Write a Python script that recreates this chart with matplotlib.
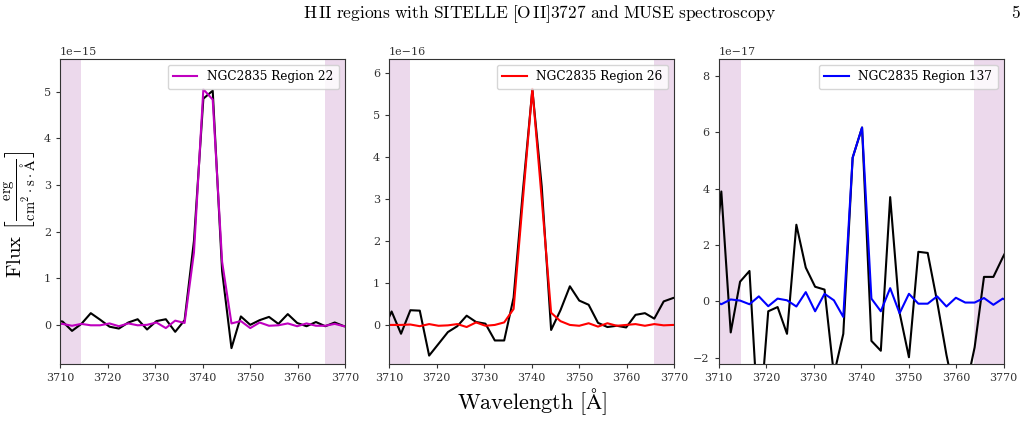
import matplotlib
matplotlib.use("Agg")
import matplotlib.pyplot as plt

plt.rcParams['font.family'] = ['DejaVu Serif']
plt.rcParams['mathtext.fontset'] = 'cm'

wavelength = [3708.58, 3710.55, 3712.53, 3714.50, 3716.48, 3718.45, 3720.43, 3722.40,
              3724.38, 3726.35, 3728.33, 3730.30, 3732.28, 3734.25, 3736.23, 3738.20,
              3740.18, 3742.15, 3744.13, 3746.10, 3748.08, 3750.05, 3752.03, 3754.00,
              3755.98, 3757.95, 3759.93, 3761.90, 3763.88, 3765.85, 3767.83, 3769.80,
              3771.78]

# Region 22 (units 1e-15)
r22_obs = [0.10, 0.07, -0.13, 0.02, 0.25, 0.11, -0.04, -0.08, 0.05, 0.12, -0.10, 0.08,
           0.12, -0.15, 0.10, 1.80, 4.85, 5.02, 1.15, -0.50, 0.18, 0.00, 0.10, 0.17,
           0.02, 0.23, 0.04, -0.03, 0.06, -0.03, 0.05, -0.03, -0.05]
r22_model = [0.02, 0.02, -0.02, 0.02, -0.01, -0.01, 0.03, -0.03, 0.03, -0.01, 0.00, 0.05,
             -0.07, 0.09, 0.04, 1.55, 5.05, 4.83, 1.35, 0.03, 0.08, -0.07, 0.05, -0.02,
             -0.01, 0.03, -0.03, 0.03, -0.02, -0.02, 0.02, -0.03, -0.04]

# Region 26 (units 1e-16)
r26_obs = [-0.18, 0.32, -0.21, 0.35, 0.34, -0.73, -0.45, -0.17, -0.03, 0.22, 0.07, 0.03,
           -0.37, -0.37, 0.65, 3.20, 5.60, 3.30, -0.12, 0.35, 0.92, 0.58, 0.48, 0.05,
           -0.05, -0.02, -0.06, 0.24, 0.28, 0.15, 0.56, 0.64, 0.70]
r26_model = [0.00, 0.00, 0.00, 0.01, -0.03, 0.02, -0.02, -0.01, 0.02, -0.05, 0.06, -0.02,
             0.00, 0.06, 0.38, 3.00, 5.62, 3.00, 0.29, 0.09, 0.00, -0.02, 0.04, -0.04,
             0.04, -0.02, 0.00, 0.02, -0.02, 0.02, -0.01, 0.00, 0.00]

# Region 137 (units 1e-17)
r137_obs = [0.40, 3.90, -1.10, 0.70, 1.08, -4.60, -0.35, -0.20, -1.15, 2.72, 1.20, 0.52,
            0.42, -2.60, -1.15, 5.10, 6.17, -1.40, -1.75, 3.70, -0.40, -1.98, 1.76, 1.72,
            0.00, -1.90, -3.50, -3.20, -1.63, 0.87, 0.87, 1.56, 2.20]
r137_model = [0.05, -0.10, 0.07, 0.03, -0.10, 0.18, -0.17, 0.10, 0.04, -0.18, 0.33, -0.35,
              0.27, 0.04, -0.55, 5.10, 6.17, 0.10, -0.35, 0.47, -0.42, 0.27, -0.08, -0.08,
              0.18, -0.18, 0.13, -0.04, -0.04, 0.12, -0.12, 0.10, -0.05]

labels = ['NGC2835 Region 22', 'NGC2835 Region 26', 'NGC2835 Region 137']
colors = ['m', 'r', 'b']
scales = [1e-15, 1e-16, 1e-17]
obs = [r22_obs, r26_obs, r137_obs]
models = [r22_model, r26_model, r137_model]
ylims = [(-0.84, 5.70), (-0.93, 6.33), (-2.22, 8.6)]
yticks = [[0, 1, 2, 3, 4, 5], [0, 1, 2, 3, 4, 5, 6], [-2, 0, 2, 4, 6, 8]]
spans = [[(3710, 3714.5), (3765.8, 3770)],
         [(3710, 3714.5), (3765.8, 3770)],
         [(3710, 3714.6), (3763.8, 3770)]]
xticks = [3710, 3720, 3730, 3740, 3750, 3760, 3770]

fig = plt.figure(figsize=(10.28, 4.34), dpi=100)
lefts = [60 / 1028, 389 / 1028, 718.7 / 1028]
w = 285 / 1028
bottom = 1 - 364 / 434
h = (364 - 59) / 434

for i in range(3):
    ax = fig.add_axes([lefts[i], bottom, w, h])
    for (a, b) in spans[i]:
        ax.axvspan(a, b, color='purple', alpha=0.15, lw=0)
    s = scales[i]
    ax.plot(wavelength, [v * s for v in obs[i]], color='k', lw=1.5)
    ax.plot(wavelength, [v * s for v in models[i]], color=colors[i], lw=1.5, label=labels[i])
    ax.set_xlim(3710, 3770)
    ax.set_ylim(ylims[i][0] * s, ylims[i][1] * s)
    ax.set_xticks(xticks)
    ax.set_yticks([t * s for t in yticks[i]])
    ax.tick_params(labelsize=8, colors='#333333', length=3)
    for sp in ax.spines.values():
        sp.set_color('#333333')
    ax.yaxis.get_offset_text().set_fontsize(8)
    ax.yaxis.get_offset_text().set_color('#333333')
    ax.legend(loc='upper right', fontsize=8.7, handlelength=2, borderpad=0.45)

fig.text(0.525, 0.968, r'$\mathrm{H\,II\ regions\ with\ SITELLE\ [O\,II]3727\ and\ MUSE\ spectroscopy}$',
         ha='center', va='center', fontsize=12.5)
fig.text(0.988, 0.968, r'$\mathrm{5}$', ha='center', va='center', fontsize=12.5)
fig.text(0.02, 0.505, r'$\mathrm{Flux}\ \left[\frac{\mathrm{erg}}{\mathrm{cm}^{2}\cdot\mathrm{s}\cdot\mathrm{\AA}}\right]$',
         rotation=90, ha='center', va='center', fontsize=15)
fig.text(0.518, 0.074, r'$\mathrm{Wavelength\ [\AA]}$', ha='center', va='center', fontsize=16)

fig.savefig('out.png', dpi=100)
